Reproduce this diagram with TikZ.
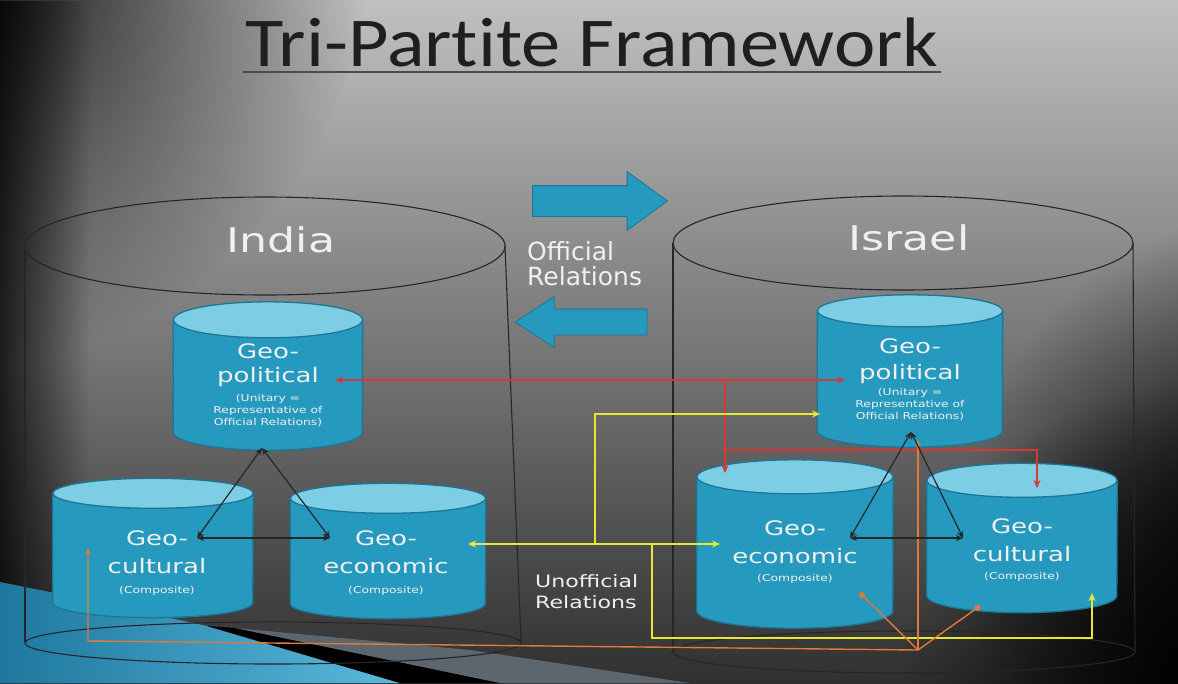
\documentclass[tikz,border=0pt]{standalone}
\usepackage{fontspec}
\setmainfont{DejaVu Sans}
\newfontfamily\widefont{DejaVu Sans}[FakeStretch=1.3]
\newfontfamily\titlefont{Carlito}[FakeStretch=1.12, Ligatures=NoCommon]
\usetikzlibrary{arrows.meta,positioning,shapes.geometric,shapes.arrows,calc,fadings}

\definecolor{bgtop}{RGB}{192,192,192}
\definecolor{bgmid}{RGB}{128,128,128}
\definecolor{bgbot}{RGB}{48,48,48}
\definecolor{cylblue}{RGB}{38,154,190}
\definecolor{cyltop}{RGB}{125,205,228}
\definecolor{cylrim}{RGB}{28,118,150}
\definecolor{floorblue}{RGB}{30,120,158}
\definecolor{floorlight}{RGB}{90,185,220}
\definecolor{floorgray}{RGB}{92,102,110}
\definecolor{relred}{RGB}{214,56,56}
\definecolor{relyellow}{RGB}{232,232,50}
\definecolor{relorange}{RGB}{222,122,58}
\definecolor{labelwhite}{RGB}{240,240,240}

\tikzfading[name=fadetoright, left color=transparent!0, right color=transparent!100]
\tikzfading[name=glowfade, inner color=transparent!0, outer color=transparent!100]

\newcommand\geoword[1]{{\fontsize{20}{24}\selectfont #1}}
% cylinder drawn round a named slot: #1 node, #2 half width, #3 end radius
\newcommand\drawcyl[3]{%
  \filldraw[cylbody] ($(#1.north west)+(0,#3)$) -- ($(#1.south west)+(0,-#3)$)
      arc[start angle=180, end angle=0, x radius=#2, y radius=#3]
      -- ($(#1.north east)+(0,#3)$) -- cycle;
  \filldraw[cylend] ($(#1.north)+(0,#3)$) ellipse [x radius=#2, y radius=#3];
}

\begin{document}
\begin{tikzpicture}[x=1pt, y=-1pt,
    geoslot/.style={rectangle, inner sep=0pt},
    cylbody/.style={fill=cylblue, draw=cylrim, line width=1.3pt},
    cylend/.style={fill=cyltop, draw=cylrim, line width=1.3pt},
    geotext/.style={text=labelwhite, align=center, inner sep=0pt,
                    font=\widefont\fontsize{9.5}{12}\selectfont},
    shell/.style={draw=black!85, line width=1.1pt},
    country/.style={text=labelwhite, inner sep=0pt, anchor=base,
                    font=\widefont\fontsize{34}{40}\selectfont},
    relarrow/.style={single arrow, fill=cylblue, draw=cylrim, line width=0.8pt,
                     inner xsep=0pt, minimum height=#1},
    rellabel/.style={text=labelwhite, align=left, inner sep=0pt, anchor=north west},
    tie/.style={{Stealth[length=7pt,width=6pt]}-{Stealth[length=7pt,width=6pt]},
                line width=1.2pt, draw=black!85},
    official/.style={-{Stealth[length=8pt,width=7pt]}, line width=1.4pt, draw=relred},
    unofficial/.style={-{Stealth[length=8pt,width=7pt]}, line width=1.4pt, draw=relyellow},
    cultural/.style={line width=1.4pt, draw=relorange}
]
\useasboundingbox (0,0) rectangle (1178,683);

%% Background
\begin{scope}
\clip (0,0) rectangle (1178,683);
\shade[top color=bgtop, middle color=bgmid, bottom color=bgbot] (0,0) rectangle (1178,683);
\fill[black, path fading=glowfade] (-60,-60) circle [radius=430];
\fill[black, path fading=fadetoright, opacity=0.75] (0,0) rectangle (90,683);
\fill[black, path fading=glowfade] (1290,540) circle [radius=330];
\fill[black, path fading=glowfade] (1200,683) circle [radius=300];
\shade[left color=floorblue, right color=floorlight]
    (0,582) -- (50,592) -- (207,626) -- (400,683) -- (0,683) -- cycle;
\fill[black] (207,626) -- (235,628) -- (500,683) -- (400,683) -- cycle;
\fill[floorgray] (235,628) -- (470,650) -- (690,683) -- (500,683) -- cycle;
\end{scope}

%% Title
\node[font=\titlefont\fontsize{70}{76}\selectfont, text=black!88, inner sep=0pt, anchor=base]
    (title) at (592,66) {Tri-Partite Framework};
\draw[line width=1.8pt, black!70] ($(title.base west)+(-2,6)$) -- ($(title.base east)+(2,6)$);

%% India shell
\draw[shell] (265,246) ellipse [x radius=240, y radius=49];
\draw[shell] (25,246) -- (25,642);
\draw[shell] (505,246) -- (521,642);
\draw[shell] (273,643) ellipse [x radius=248, y radius=21];
\node[country] (india) at (281,252) {India};

%% Israel shell
\draw[shell] (903,243) ellipse [x radius=230, y radius=47];
\draw[shell] (673,243) -- (673,652);
\draw[shell] (1133,243) -- (1135,652);
\draw[shell] (904,652) ellipse [x radius=231, y radius=21];
\node[country] (israel) at (909,250) {Israel};

%% India components
\node[geoslot, minimum width=189, minimum height=148] (indpol) at (268,376) {};
\node[geoslot, minimum width=200, minimum height=139] (indcul) at (153,548) {};
\node[geoslot, minimum width=195, minimum height=135] (indeco) at (388,551) {};
\drawcyl{indpol}{94.5}{18}
\drawcyl{indcul}{100}{15}
\drawcyl{indeco}{97.5}{15}
\node[geotext] (indpoltxt) at (268,385)
    {\geoword{Geo-}\\[7.5pt]\geoword{political}\\[7pt](Unitary =\\Representative of\\Official Relations)};
\node[geotext] (indcultxt) at (157,563) {\geoword{Geo-}\\[11.5pt]\geoword{cultural}\\[8.8pt](Composite)};
\node[geotext] (indecotxt) at (386,563) {\geoword{Geo-}\\[11.5pt]\geoword{economic}\\[8.8pt](Composite)};

%% Israel components
\node[geoslot, minimum width=185, minimum height=152] (isrpol) at (910,371) {};
\node[geoslot, minimum width=196, minimum height=168] (isreco) at (795,544) {};
\node[geoslot, minimum width=190, minimum height=149] (isrcul) at (1022,538) {};
\drawcyl{isrpol}{92.5}{16}
\drawcyl{isreco}{98}{17}
\drawcyl{isrcul}{95}{17}
\node[geotext] (isrpoltxt) at (910,380)
    {\geoword{Geo-}\\[9.5pt]\geoword{political}\\[4pt](Unitary =\\Representative of\\Official Relations)};
\node[geotext] (isrecotxt) at (795,552) {\geoword{Geo-}\\[11.5pt]\geoword{economic}\\[6.8pt](Composite)};
\node[geotext] (isrcultxt) at (1022,550) {\geoword{Geo-}\\[11.5pt]\geoword{cultural}\\[6.8pt](Composite)};

%% Official relations
\node[relarrow=135, inner ysep=15, single arrow head extend=14, single arrow tip angle=72]
    (offright) at (589.5,201) {};
\node[relarrow=132, inner ysep=12.5, single arrow head extend=12.5, single arrow tip angle=66,
      shape border rotate=180] (offleft) at (591,322) {};
\node[rellabel, font=\fontsize{25}{25}\selectfont] (offlabel) at (527,241) {Official\\Relations};
\node[rellabel, font=\widefont\fontsize{17}{21}\selectfont] (unofflabel) at (535,574) {Unofficial\\Relations};

%% Red links (official)
\coordinate (redfork) at (725,380);
\coordinate (redbar) at (725,450);
\draw[official, {Stealth[length=8pt,width=7pt]}-{Stealth[length=8pt,width=7pt]}]
    ($(indpol)+(67,4)$) -- ($(isrpol)+(-65,9)$);
\draw[official] (redfork) -- ($(isreco)+(-70,-71)$);
\draw[official] (redbar) -| ($(isrcul)+(15,-50)$);

%% Yellow links (unofficial)
\coordinate (yelforkA) at (595,544);
\coordinate (yelforkB) at (652,544);
\coordinate (yelcorner) at (652,638);
\draw[unofficial, {Stealth[length=8pt,width=7pt]}-{Stealth[length=8pt,width=7pt]}]
    ($(indeco)+(80,-7)$) -- ($(isreco)+(-75,0)$);
\draw[unofficial] (yelforkA) |- ($(isrpol)+(-90,43)$);
\draw[unofficial] (yelforkB) -- (yelcorner) -| ($(isrcul)+(70,55)$);

%% Orange links
\coordinate (orghub) at (918,650);
\coordinate (orgcorner) at (88,641);
\draw[cultural, -{Stealth[length=7pt,width=6pt]}] (orghub) -- (orgcorner) -- ($(indcul)+(-65,0)$);
\draw[cultural, -{Stealth[length=7pt,width=6pt]}] (orghub) -- ($(isrpol)+(8,69)$);
\draw[cultural, -{Circle[length=6pt]}] (orghub) -- ($(isreco)+(65,49)$);
\draw[cultural, -{Circle[length=6pt]}] (orghub) -- ($(isrcul)+(-42,68)$);

%% Internal ties
\draw[tie] ($(indpol)+(-6,72)$) -- ($(indcul)+(44,-10)$);
\draw[tie] ($(indpol)+(-6,72)$) -- ($(indeco)+(-58,-13)$);
\draw[tie] ($(indcul)+(44,-10)$) -- ($(indeco)+(-58,-13)$);
\draw[tie] ($(isrpol)+(1,61)$) -- ($(isreco)+(55,-6)$);
\draw[tie] ($(isrpol)+(1,61)$) -- ($(isrcul)+(-59,0)$);
\draw[tie] ($(isreco)+(55,-6)$) -- ($(isrcul)+(-59,0)$);

\end{tikzpicture}
\end{document}
